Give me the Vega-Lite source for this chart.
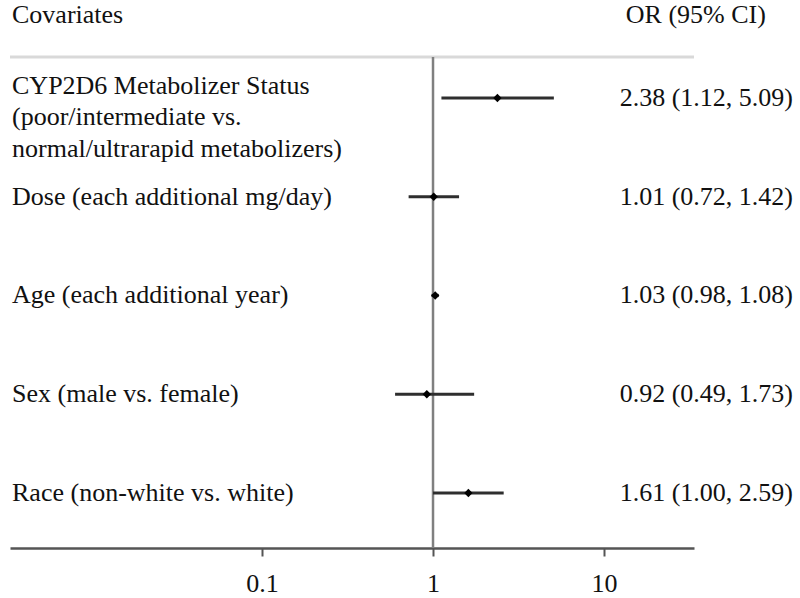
{
  "$schema": "https://vega.github.io/schema/vega-lite/v6.json",
  "width": 684,
  "height": 491,
  "autosize": {"type": "none"},
  "padding": {"left": 10, "top": 57, "right": 106, "bottom": 50},
  "background": "white",
  "config": {
    "view": {"stroke": null},
    "font": "Liberation Serif",
    "text": {"font": "Liberation Serif", "fontSize": 26, "color": "#111111"}
  },
  "data": {
    "values": [
      {"row": 1, "label": ["CYP2D6 Metabolizer Status", "(poor/intermediate vs.", "normal/ultrarapid metabolizers)"], "or": 2.38, "lo": 1.12, "hi": 5.09, "ci": "2.38 (1.12, 5.09)"},
      {"row": 2, "label": "Dose (each additional mg/day)", "or": 1.01, "lo": 0.72, "hi": 1.42, "ci": "1.01 (0.72, 1.42)"},
      {"row": 3, "label": "Age (each additional year)", "or": 1.03, "lo": 0.98, "hi": 1.08, "ci": "1.03 (0.98, 1.08)"},
      {"row": 4, "label": "Sex (male vs. female)", "or": 0.92, "lo": 0.6, "hi": 1.74, "ci": "0.92 (0.49, 1.73)"},
      {"row": 5, "label": "Race (non-white vs. white)", "or": 1.61, "lo": 1.0, "hi": 2.59, "ci": "1.61 (1.00, 2.59)"}
    ]
  },
  "layer": [
    {
      "data": {"values": [{}]},
      "mark": {"type": "rule", "color": "#d9d9d9", "strokeWidth": 3},
      "encoding": {
        "y": {"datum": 0.585, "type": "quantitative", "scale": {"domain": [0.585, 5.557], "reverse": true, "nice": false, "zero": false}, "axis": null}
      }
    },
    {
      "data": {"values": [{}]},
      "mark": {"type": "rule", "color": "#808080", "strokeWidth": 2.5},
      "encoding": {
        "x": {"datum": 1, "type": "quantitative", "scale": {"type": "log", "domain": [0.003358, 33.6], "nice": false}}
      }
    },
    {
      "mark": {"type": "rule", "color": "#2e2e2e", "strokeWidth": 3.2},
      "encoding": {
        "x": {"field": "lo", "type": "quantitative", "scale": {"type": "log", "domain": [0.003358, 33.6], "nice": false},
          "axis": {"values": [0.1, 1, 10], "title": null, "grid": false, "format": "~g", "domainColor": "#555555", "domainWidth": 2.5, "tickColor": "#555555", "tickWidth": 2, "tickSize": 8, "labelFont": "Liberation Serif", "labelFontSize": 26, "labelColor": "#111111", "labelPadding": 14}},
        "x2": {"field": "hi"},
        "y": {"field": "row", "type": "quantitative", "scale": {"domain": [0.585, 5.557], "reverse": true, "nice": false, "zero": false}, "axis": null}
      }
    },
    {
      "mark": {"type": "point", "shape": "diamond", "filled": true, "color": "#000000", "size": 70, "opacity": 1},
      "encoding": {
        "x": {"field": "or", "type": "quantitative", "scale": {"type": "log", "domain": [0.003358, 33.6], "nice": false}},
        "y": {"field": "row", "type": "quantitative", "scale": {"domain": [0.585, 5.557], "reverse": true, "nice": false, "zero": false}, "axis": null}
      }
    },
    {
      "transform": [{"filter": "datum.row > 1"}],
      "mark": {"type": "text", "align": "left", "baseline": "middle"},
      "encoding": {
        "x": {"datum": 0.00345, "type": "quantitative", "scale": {"type": "log", "domain": [0.003358, 33.6], "nice": false}},
        "y": {"field": "row", "type": "quantitative", "scale": {"domain": [0.585, 5.557], "reverse": true, "nice": false, "zero": false}, "axis": null},
        "text": {"field": "label"}
      }
    },
    {
      "transform": [{"filter": "datum.row == 1"}],
      "mark": {"type": "text", "align": "left", "baseline": "top", "dy": -25, "lineHeight": 31.5},
      "encoding": {
        "x": {"datum": 0.00345, "type": "quantitative", "scale": {"type": "log", "domain": [0.003358, 33.6], "nice": false}},
        "y": {"field": "row", "type": "quantitative", "scale": {"domain": [0.585, 5.557], "reverse": true, "nice": false, "zero": false}, "axis": null},
        "text": {"field": "label"}
      }
    },
    {
      "mark": {"type": "text", "align": "right", "baseline": "middle"},
      "encoding": {
        "x": {"datum": 127.4, "type": "quantitative", "scale": {"type": "log", "domain": [0.003358, 33.6], "nice": false}},
        "y": {"field": "row", "type": "quantitative", "scale": {"domain": [0.585, 5.557], "reverse": true, "nice": false, "zero": false}, "axis": null},
        "text": {"field": "ci"}
      }
    },
    {
      "data": {"values": [{"h": "Covariates"}]},
      "mark": {"type": "text", "align": "left", "baseline": "middle"},
      "encoding": {
        "x": {"datum": 0.00345, "type": "quantitative", "scale": {"type": "log", "domain": [0.003358, 33.6], "nice": false}},
        "y": {"datum": 0.16, "type": "quantitative", "scale": {"domain": [0.585, 5.557], "reverse": true, "nice": false, "zero": false}, "axis": null},
        "text": {"field": "h"}
      }
    },
    {
      "data": {"values": [{"h": "OR (95% CI)"}]},
      "mark": {"type": "text", "align": "right", "baseline": "middle"},
      "encoding": {
        "x": {"datum": 88.5, "type": "quantitative", "scale": {"type": "log", "domain": [0.003358, 33.6], "nice": false}},
        "y": {"datum": 0.16, "type": "quantitative", "scale": {"domain": [0.585, 5.557], "reverse": true, "nice": false, "zero": false}, "axis": null},
        "text": {"field": "h"}
      }
    }
  ]
}
